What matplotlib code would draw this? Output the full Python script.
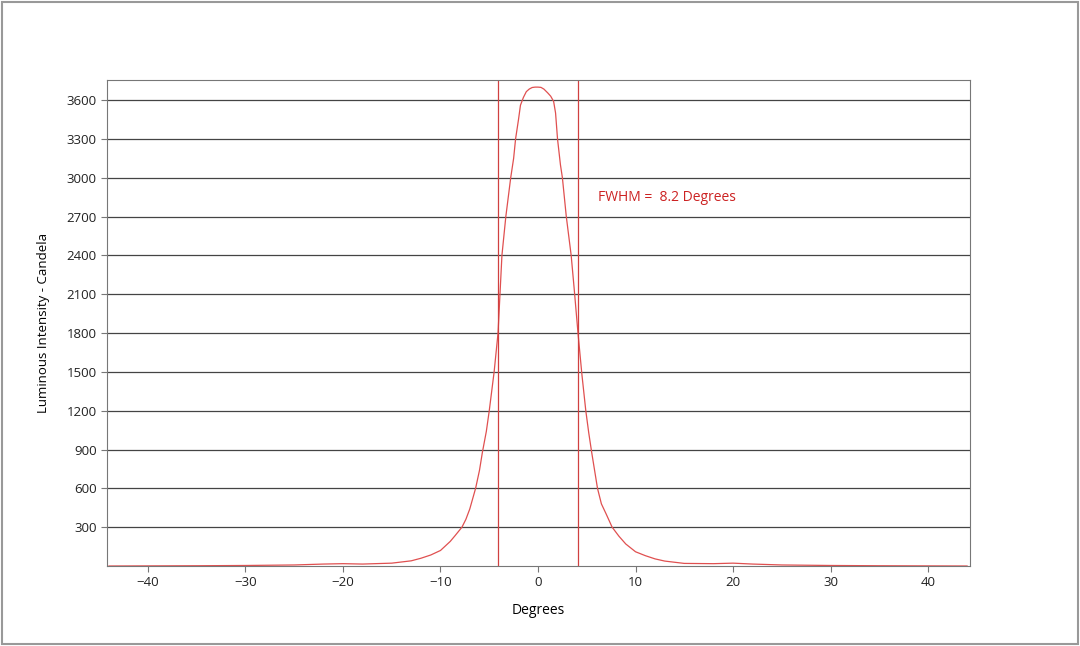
import matplotlib
matplotlib.use("Agg")
import matplotlib.pyplot as plt
from matplotlib.patches import Rectangle

degrees = [-44, -35, -30, -25, -22, -20, -18, -15, -13, -12, -11, -10, -9, -8.5, -7.8, -7.4, -7, -6.4, -6.0, -5.7, -5.3, -5.0, -4.5, -4.1, -3.7, -3.3, -2.8, -2.5, -2.3, -2.0, -1.8, -1.5, -1.2, -0.9, -0.6, -0.3, 0,
           0.3, 0.6, 1.0, 1.3, 1.6, 1.8, 2.0, 2.3, 2.5, 2.9, 3.4, 3.7, 4.1, 4.5, 4.9, 5.2, 5.5, 6.1, 6.5, 7.0, 7.6, 8.3, 9, 10, 11, 12, 13, 15, 18, 20, 22, 25, 30, 35, 44]
intensity = [0, 2, 4, 8, 15, 18, 15, 22, 40, 60, 85, 120, 190, 235, 300, 360, 440, 600, 740, 880, 1040, 1200, 1500, 1800, 2400, 2700, 3000, 3150, 3300, 3450, 3560, 3620, 3665, 3685, 3697, 3700, 3700,
             3698, 3685, 3655, 3630, 3590, 3500, 3300, 3100, 3000, 2700, 2400, 2150, 1800, 1480, 1200, 1030, 880, 600, 480, 400, 300, 230, 170, 110, 80, 55, 38, 20, 18, 22, 15, 8, 4, 2, 0]

xticks = [-40, -30, -20, -10, 0, 10, 20, 30, 40]
yticks = [300, 600, 900, 1200, 1500, 1800, 2100, 2400, 2700, 3000, 3300, 3600]
fwhm_lines = [-4.1, 4.1]

plt.rcParams['font.family'] = ['Open Sans', 'DejaVu Sans']
fig = plt.figure(figsize=(10.8, 6.46), dpi=100)
fig.patches.append(Rectangle((0.002, 0.003), 0.996, 0.994, transform=fig.transFigure,
                             fill=False, edgecolor='#999999', lw=1.5))
ax = fig.add_axes([107/1080, 1-566/646, (970-107)/1080, (566-80)/646])
ax.plot(degrees, intensity, color='#e05050', lw=0.9)
for v in fwhm_lines:
    ax.axvline(v, color='#d04040', lw=0.9)
ax.set_xlim(-44.2, 44.3)
ax.set_ylim(0, 3755)
ax.set_xticks(xticks)
ax.set_yticks(yticks)
ax.grid(axis='y', color='#444444', lw=0.9)
ax.set_axisbelow(True)
for s in ax.spines.values():
    s.set_color('#777777')
ax.tick_params(labelsize=9.5, color='#777777', length=4, labelcolor='#222222')
ax.set_xlabel('Degrees', fontsize=10, labelpad=10)
ax.set_ylabel('Luminous Intensity - Candela', fontsize=9.5, labelpad=12)
ax.text(6.2, 2850, 'FWHM =  8.2 Degrees', color='#cc2222', fontsize=10, va='center')
fig.savefig('out.png', dpi=100)
